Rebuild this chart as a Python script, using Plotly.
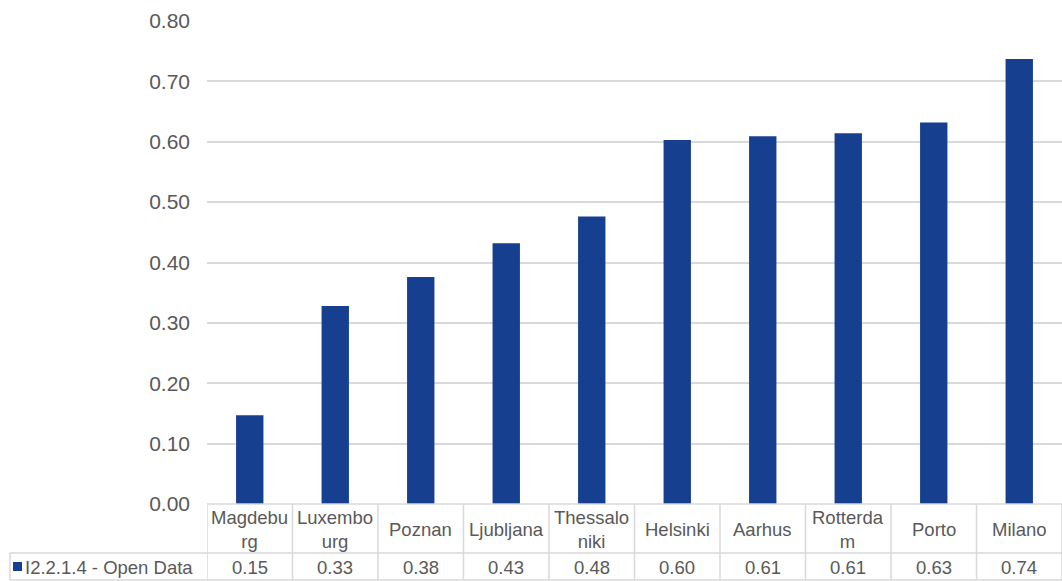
import plotly.graph_objects as go

cities = ["Magdeburg", "Luxembourg", "Poznan", "Ljubljana", "Thessaloniki",
          "Helsinki", "Aarhus", "Rotterdam", "Porto", "Milano"]
city_labels = ["Magdebu<br>rg", "Luxembo<br>urg", "Poznan", "Ljubljana", "Thessalo<br>niki",
               "Helsinki", "Aarhus", "Rotterda<br>m", "Porto", "Milano"]
values = [0.147, 0.328, 0.376, 0.432, 0.476, 0.603, 0.609, 0.614, 0.632, 0.737]
series_name = "I2.2.1.4 - Open Data"
y_ticks = [0.0, 0.1, 0.2, 0.3, 0.4, 0.5, 0.6, 0.7, 0.8]

W, H = 1062, 581
L, R, T, B = 207, 0, 21, 77
plot_w = W - L - R
plot_h = H - T - B
BAR = "#173F8F"
TXT = "#595959"
GRID = "#D9D9D9"
FONT = "Liberation Sans, Arial, sans-serif"

def py(pix):
    # pixel y (from top) -> paper y
    return (H - B - pix) / plot_h

def px(pix):
    return (pix - L) / plot_w

fig = go.Figure(go.Bar(
    x=cities, y=values, marker=dict(color=BAR, line=dict(width=0)),
    name=series_name, showlegend=False, hoverinfo="x+y",
))

fig.update_layout(
    width=W, height=H,
    margin=dict(l=L, r=R, t=T, b=B, pad=0),
    paper_bgcolor="white", plot_bgcolor="white",
    bargap=0.68,
    font=dict(family=FONT, color=TXT),
    xaxis=dict(showticklabels=False, showgrid=False, zeroline=False,
               showline=False, ticks="", range=[-0.5, len(cities) - 0.5]),
    yaxis=dict(range=[0, 0.8], tickvals=y_ticks,
               ticktext=[f"{v:.2f}" for v in y_ticks],
               showgrid=True, gridcolor=GRID, gridwidth=1.5,
               zeroline=False, showline=False, ticks="",
               tickfont=dict(size=21, color=TXT, family=FONT),
               ticklabelstandoff=16),
)

shapes = []
line = dict(color=GRID, width=1.5)
# horizontal table lines
shapes.append(dict(type="line", xref="paper", yref="paper", x0=0, x1=1, y0=py(504), y1=py(504), line=line))
shapes.append(dict(type="line", xref="paper", yref="paper", x0=px(10), x1=1, y0=py(553), y1=py(553), line=line))
shapes.append(dict(type="line", xref="paper", yref="paper", x0=px(10), x1=1, y0=py(580), y1=py(580), line=line))
# vertical lines
shapes.append(dict(type="line", xref="paper", yref="paper", x0=px(10), x1=px(10), y0=py(553), y1=py(580), line=line))
for i in range(len(cities) + 1):
    shapes.append(dict(type="line", xref="x", yref="paper", x0=i - 0.5, x1=i - 0.5,
                       y0=py(504), y1=py(580), line=line))
# legend key square
shapes.append(dict(type="rect", xref="paper", yref="paper", x0=px(13), x1=px(22),
                   y0=py(571), y1=py(562), fillcolor=BAR, line=dict(width=0)))

annotations = []
for c, lab, v in zip(cities, city_labels, values):
    annotations.append(dict(x=c, xref="x", y=py(529), yref="paper", text=lab,
                            showarrow=False, xanchor="center", yanchor="middle",
                            font=dict(size=18.5, color=TXT, family=FONT)))
    annotations.append(dict(x=c, xref="x", y=py(567), yref="paper", text=f"{v:.2f}",
                            showarrow=False, xanchor="center", yanchor="middle",
                            font=dict(size=18.5, color=TXT, family=FONT)))
annotations.append(dict(x=px(23), xref="paper", y=py(567), yref="paper", text=series_name,
                        showarrow=False, xanchor="left", yanchor="middle",
                        font=dict(size=18.5, color=TXT, family=FONT)))

fig.update_layout(shapes=shapes, annotations=annotations)
fig.write_html("out.html", config={"displayModeBar": False},
               post_script="document.body.style.margin='0';document.body.style.overflow='hidden';")
